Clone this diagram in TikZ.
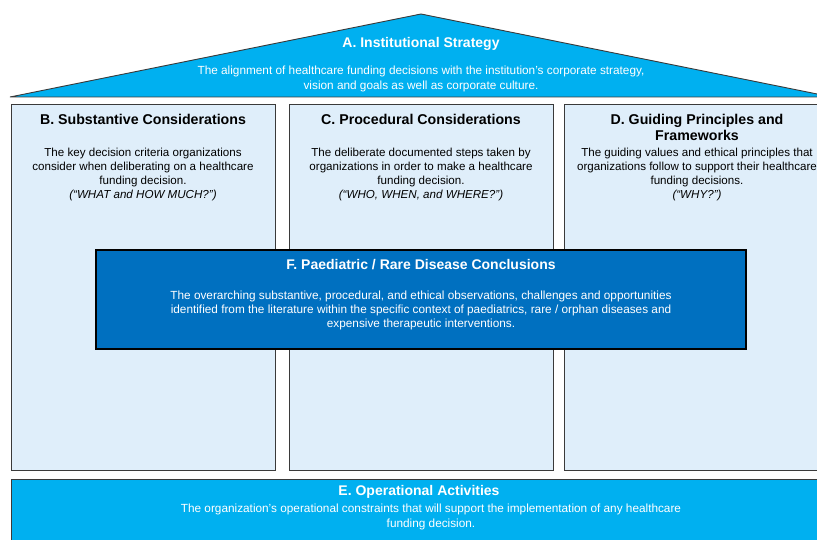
\documentclass[tikz,border=0pt]{standalone}
\usepackage{fontspec}
\setmainfont{Liberation Sans}
\definecolor{cyanfill}{HTML}{00B0F0}
\definecolor{lightfill}{HTML}{DFEEFA}
\definecolor{darkblue}{HTML}{0070C0}
\definecolor{edge}{HTML}{3A3A3A}
\tikzset{
  pillar/.style={draw=edge, line width=0.9pt, fill=lightfill},
  band/.style={draw=edge, line width=0.9pt, fill=cyanfill},
  whitetitle/.style={text=white, font=\bfseries\fontsize{14}{16}\selectfont, align=center, inner sep=0pt},
  whitebody/.style={text=white, font=\fontsize{11.8}{14.2}\selectfont, align=center, inner sep=0pt},
  blacktitle/.style={text=black, font=\bfseries\fontsize{14.2}{16}\selectfont, align=center, inner sep=0pt},
  blackbody/.style={text=black, font=\fontsize{11.6}{14.3}\selectfont, align=center, inner sep=0pt},
}
\begin{document}
\begin{tikzpicture}[x=1pt, y=-1pt]
\useasboundingbox (0,0) rectangle (817,540);
\clip (0,0) rectangle (817,540);
\fill[white] (0,0) rectangle (817,540);
% roof
\draw[band] (10,97) -- (421,14) -- (832,97) -- cycle;
\node[whitetitle] (atitle) at (421,44) {A. Institutional Strategy};
\node[whitebody] (abody) at (421,79) {The alignment of healthcare funding decisions with the institution's corporate strategy,\\vision and goals as well as corporate culture.};
% pillars
\draw[pillar] (11,104) rectangle (275,470);
\draw[pillar] (289,104) rectangle (553,470);
\draw[pillar] (564,104) rectangle (832,470);
\node[blacktitle] (btitle) at (143,119) {B. Substantive Considerations};
\node[blackbody] (bbody) at (143,174.5) {The key decision criteria organizations\\consider when deliberating on a healthcare\\funding decision.\\\textit{(``WHAT and HOW MUCH?'')}};
\node[blacktitle] (ctitle) at (421,119) {C. Procedural Considerations};
\node[blackbody] (cbody) at (421,174.5) {The deliberate documented steps taken by\\organizations in order to make a healthcare\\funding decision.\\\textit{(``WHO, WHEN, and WHERE?'')}};
\node[blacktitle] (dtitle) at (697,127) {D. Guiding Principles and\\Frameworks};
\node[blackbody] (dbody) at (697,174.5) {The guiding values and ethical principles that\\organizations follow to support their healthcare\\funding decisions.\\\textit{(``WHY?'')}};
% F box
\draw[draw=black, line width=2.6pt, fill=darkblue] (96,250) rectangle (746,349);
\node[whitetitle] (ftitle) at (421,265) {F. Paediatric / Rare Disease Conclusions};
\node[whitebody] (fbody) at (421,310.5) {The overarching substantive, procedural, and ethical observations, challenges and opportunities\\identified from the literature within the specific context of paediatrics, rare / orphan diseases and\\expensive therapeutic interventions.};
% E band
\draw[band] (11,479) rectangle (832,550);
\node[whitetitle] (etitle) at (419,492) {E. Operational Activities};
\node[whitebody] (ebody) at (431,517) {The organization's operational constraints that will support the implementation of any healthcare\\funding decision.};
\end{tikzpicture}
\end{document}
